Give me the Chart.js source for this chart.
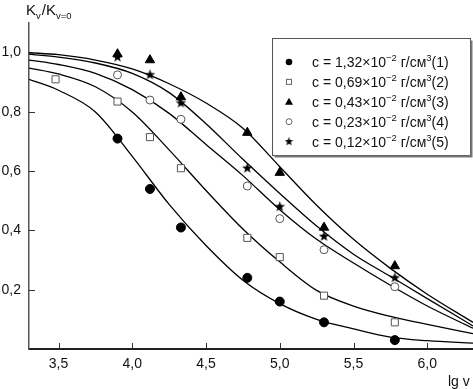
<!DOCTYPE html>
<html>
<head>
<meta charset="utf-8">
<script src="https://cdn.jsdelivr.net/npm/chart.js@4"></script>
<style>
html, body { margin: 0; padding: 0; background: #fff; }
#wrap { width: 473px; height: 389px; position: relative; }
</style>
</head>
<body>
<div id="wrap"><canvas id="chart"></canvas></div>
<script>
// measured points
var pointX = [3.9, 4.12, 4.33, 4.78, 5.0, 5.3, 5.78];
var s1 = [0.71, 0.54, 0.41, 0.24, 0.16, 0.09, 0.03];
var s2X = [3.48, 3.9, 4.12, 4.33, 4.78, 5.0, 5.3, 5.78];
var s2 = [0.91, 0.835, 0.715, 0.61, 0.375, 0.31, 0.18, 0.09];
var s3 = [0.995, 0.975, 0.85, 0.73, 0.595, 0.41, 0.28];
var s4 = [0.925, 0.84, 0.775, 0.55, 0.44, 0.335, 0.21];
var s5 = [0.985, 0.925, 0.83, 0.61, 0.48, 0.38, 0.24];

// fitted curves
var curveX = [3.3, 3.5, 3.75, 4.0, 4.25, 4.5, 4.75, 5.0, 5.25, 5.5, 5.75, 6.0, 6.31];
var fit1 = [0.91, 0.873, 0.80, 0.65, 0.488, 0.349, 0.232, 0.153, 0.10, 0.068, 0.04, 0.028, 0.02];
var fit2 = [0.948, 0.928, 0.885, 0.80, 0.672, 0.535, 0.405, 0.294, 0.198, 0.145, 0.11, 0.083, 0.052];
var fit3 = [1.0, 0.993, 0.975, 0.945, 0.895, 0.83, 0.745, 0.615, 0.485, 0.37, 0.272, 0.185, 0.09];
var fit4 = [0.975, 0.96, 0.93, 0.875, 0.795, 0.69, 0.585, 0.47, 0.37, 0.29, 0.215, 0.145, 0.07];
var fit5 = [0.995, 0.985, 0.965, 0.93, 0.865, 0.76, 0.64, 0.525, 0.415, 0.32, 0.245, 0.17, 0.078];

var xTicks = [3.5, 4.0, 4.5, 5.0, 5.5, 6.0];
var yTicks = [0.2, 0.4, 0.6, 0.8, 1.0];
var conc = ["1,32", "0,69", "0,43", "0,23", "0,12"];

var FONT = '"Liberation Sans", Arial, sans-serif';

function pairs(xs, ys) {
    return ys.map(function(v, i) { return { x: xs[i], y: v }; });
}

function makeStar(size) {
    var cv = document.createElement("canvas");
    cv.width = size; cv.height = size;
    var g = cv.getContext("2d");
    var c = size / 2, ro = size / 2, ri = ro * 0.42;
    g.beginPath();
    for (var i = 0; i < 10; i++) {
        var r = i % 2 === 0 ? ro : ri;
        var a = -Math.PI / 2 + i * Math.PI / 5;
        g.lineTo(c + r * Math.cos(a), c + r * Math.sin(a));
    }
    g.closePath();
    g.fillStyle = "#000";
    g.fill();
    return cv;
}
var star = makeStar(11);
var starSmall = makeStar(9);

function pointSet(data, style, radius, fill, border) {
    return {
        data: data,
        pointStyle: style,
        pointRadius: radius,
        pointHoverRadius: radius,
        backgroundColor: fill,
        borderColor: border,
        borderWidth: 1,
        showLine: false
    };
}

function curveSet(data) {
    return {
        type: "line",
        data: data,
        borderColor: "#000",
        borderWidth: 1.3,
        pointRadius: 0,
        fill: false,
        cubicInterpolationMode: "monotone"
    };
}

function drawRich(ctx, x, y, parts) {
    parts.forEach(function(p) {
        var size = p[1] === "n" ? 14 : 9.5;
        var dy = p[1] === "sup" ? -6 : 0;
        ctx.font = size + "px " + FONT;
        ctx.fillText(p[0], x, y + dy);
        x += ctx.measureText(p[0]).width;
    });
}

var decor = {
    id: "decor",
    afterDraw: function(chart) {
        var ctx = chart.ctx, xs = chart.scales.x, ys = chart.scales.y, area = chart.chartArea;
        ctx.save();
        // inward tick marks
        ctx.strokeStyle = "#333";
        ctx.lineWidth = 1;
        xTicks.forEach(function(v) {
            var px = Math.round(xs.getPixelForValue(v)) + 0.5;
            ctx.beginPath(); ctx.moveTo(px, area.bottom); ctx.lineTo(px, area.bottom - 6); ctx.stroke();
        });
        yTicks.forEach(function(v) {
            var py = Math.round(ys.getPixelForValue(v)) + 0.5;
            ctx.beginPath(); ctx.moveTo(area.left, py); ctx.lineTo(area.left + 6, py); ctx.stroke();
        });

        // axis titles
        ctx.fillStyle = "#111";
        ctx.textAlign = "left";
        ctx.textBaseline = "alphabetic";
        var x = 26;
        ctx.font = "15px " + FONT;
        ctx.fillText("K", x, 15); x += ctx.measureText("K").width;
        ctx.font = "9.5px " + FONT;
        ctx.fillText("v", x, 19); x += ctx.measureText("v").width + 1;
        ctx.font = "15px " + FONT;
        ctx.fillText("/K", x, 15); x += ctx.measureText("/K").width;
        ctx.font = "9.5px " + FONT;
        ctx.fillText("v=0", x, 19);

        ctx.font = "14px " + FONT;
        ctx.fillText("lg v", 448, 386);

        // legend box
        var bx = 272.5, by = 38.5, bw = 198, bh = 117;
        ctx.fillStyle = "#fff";
        ctx.fillRect(bx, by, bw, bh);
        ctx.strokeStyle = "#555";
        ctx.lineWidth = 1;
        ctx.strokeRect(bx, by, bw, bh);
        ctx.strokeStyle = "#777";
        ctx.lineWidth = 2;
        ctx.beginPath();
        ctx.moveTo(bx + bw + 1, by + 2); ctx.lineTo(bx + bw + 1, by + bh + 1); ctx.lineTo(bx + 2, by + bh + 1);
        ctx.stroke();

        ctx.fillStyle = "#111";
        conc.forEach(function(c, i) {
            var ry = 62 + i * 19.9;
            var mx = 289;
            ctx.lineWidth = 1;
            ctx.fillStyle = "#000";
            ctx.strokeStyle = "#666";
            if (i === 0) {
                ctx.beginPath(); ctx.arc(mx, ry, 3.3, 0, Math.PI * 2); ctx.fill();
            } else if (i === 1) {
                ctx.strokeRect(mx - 2.5, ry - 2.5, 5, 5);
            } else if (i === 2) {
                ctx.beginPath(); ctx.moveTo(mx, ry - 4); ctx.lineTo(mx + 4, ry + 3); ctx.lineTo(mx - 4, ry + 3); ctx.closePath(); ctx.fill();
            } else if (i === 3) {
                ctx.beginPath(); ctx.arc(mx, ry, 3, 0, Math.PI * 2); ctx.stroke();
            } else {
                ctx.drawImage(starSmall, mx - 4.5, ry - 4.5);
            }
            ctx.fillStyle = "#111";
            drawRich(ctx, 312, ry + 5, [
                ["c = " + c + "\u00d710", "n"], ["\u22122", "sup"], [" \u0433/\u0441\u043c", "n"],
                ["3", "sup"], ["(" + (i + 1) + ")", "n"]
            ]);
        });
        ctx.restore();
    }
};

var chart = new Chart(document.getElementById("chart"), {
    type: "scatter",
    data: {
        datasets: [
            pointSet(pairs(pointX, s1), "circle", 4.5, "#000", "#000"),
            pointSet(pairs(s2X, s2), "rect", 5, "#fff", "#555"),
            pointSet(pairs(pointX, s3), "triangle", 5.4, "#000", "#000"),
            pointSet(pairs(pointX, s4), "circle", 4, "#fff", "#555"),
            pointSet(pairs(pointX, s5), star, 5, "#000", "#000"),
            curveSet(pairs(curveX, fit1)),
            curveSet(pairs(curveX, fit2)),
            curveSet(pairs(curveX, fit3)),
            curveSet(pairs(curveX, fit4)),
            curveSet(pairs(curveX, fit5))
        ]
    },
    options: {
        responsive: true,
        maintainAspectRatio: false,
        animation: false,
        layout: { autoPadding: false, padding: { top: 23, right: 0, left: 0, bottom: 0 } },
        plugins: { legend: { display: false }, tooltip: { enabled: false } },
        scales: {
            x: {
                type: "linear",
                min: 3.3,
                max: 6.31,
                afterBuildTicks: function(scale) {
                    scale.ticks = xTicks.map(function(v) { return { value: v }; });
                },
                afterFit: function(scale) { scale.height = 40; },
                grid: { drawOnChartArea: false, drawTicks: false },
                border: { display: true, color: "#222", width: 2 },
                ticks: {
                    padding: 7,
                    color: "#111",
                    font: { family: FONT, size: 14 },
                    maxRotation: 0,
                    callback: function(v) { return v.toFixed(1).replace(".", ","); }
                }
            },
            y: {
                min: 0,
                max: 1.1,
                afterBuildTicks: function(scale) {
                    scale.ticks = yTicks.map(function(v) { return { value: v }; });
                },
                afterFit: function(scale) { scale.width = 29; },
                grid: { drawOnChartArea: false, drawTicks: false },
                border: { display: true, color: "#555", width: 1.5 },
                ticks: {
                    padding: 8,
                    color: "#111",
                    font: { family: FONT, size: 14 },
                    callback: function(v) { return v.toFixed(1).replace(".", ","); }
                }
            }
        }
    },
    plugins: [decor]
});
</script>
</body>
</html>
